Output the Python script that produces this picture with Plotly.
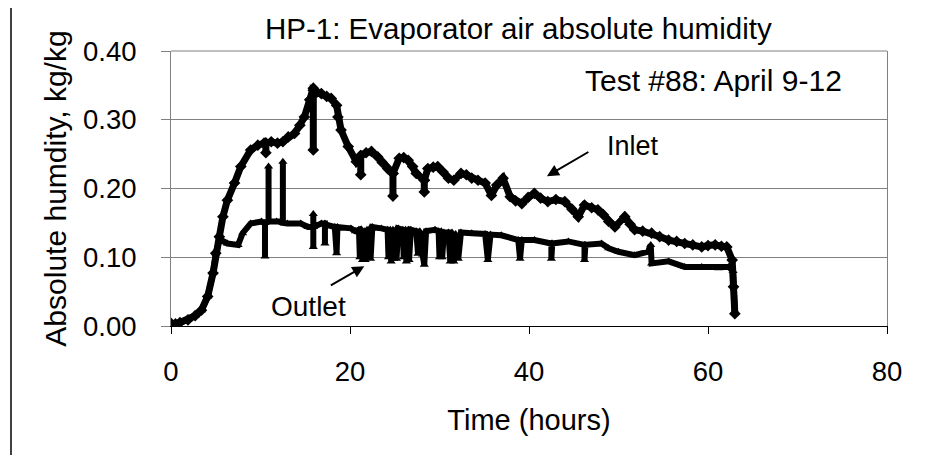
import plotly.graph_objects as go

# ---------------- data ----------------
inlet_t = [0.0, 0.5, 1.0, 1.9, 2.7, 3.4, 4.1, 4.7, 5.0, 5.4, 5.8, 6.3, 7.1, 7.8, 8.9, 9.7,
           10.4, 10.6, 10.6, 10.6, 11.2, 11.9, 12.5, 13.1, 13.8, 14.4, 14.9, 15.5, 15.9, 15.9, 15.9,
           16.3, 16.8, 17.4, 17.9, 18.5, 18.65, 19.0, 19.8, 20.7, 21.2, 21.2, 21.2, 21.8, 22.4,
           23.1, 23.6, 24.2, 24.8, 24.8, 24.8, 25.5, 26.0, 26.5, 27.0, 27.4, 28.3, 28.3, 28.3,
           28.7, 29.3, 29.8, 30.4, 31.0, 31.6, 32.4, 33.0, 33.6, 34.3, 35.1, 35.8, 36.4, 37.1,
           37.9, 38.5, 39.2, 39.9, 40.6, 41.3, 42.1, 43.0, 44.0, 44.8, 45.5, 46.2, 47.0, 47.7,
           48.3, 48.9, 49.6, 50.7, 51.3, 51.8, 52.7, 53.7, 54.6, 55.6, 56.5, 57.4, 58.3, 59.3,
           60.0, 60.8, 61.5, 62.1, 62.7, 62.85, 63.0]
inlet_y = [0.004, 0.003, 0.005, 0.009, 0.015, 0.023, 0.043, 0.077, 0.106, 0.130, 0.159, 0.183,
           0.208, 0.232, 0.256, 0.263, 0.266, 0.266, 0.252, 0.266, 0.268, 0.266, 0.268, 0.275,
           0.280, 0.292, 0.304, 0.329, 0.346, 0.256, 0.343, 0.340, 0.338, 0.334, 0.331, 0.321,
           0.304, 0.285, 0.261, 0.239, 0.248, 0.220, 0.248, 0.252, 0.254, 0.246, 0.238, 0.229,
           0.222, 0.189, 0.222, 0.244, 0.245, 0.241, 0.232, 0.222, 0.212, 0.195, 0.212, 0.229,
           0.231, 0.232, 0.224, 0.215, 0.212, 0.222, 0.220, 0.215, 0.212, 0.208, 0.190, 0.205,
           0.215, 0.188, 0.182, 0.178, 0.187, 0.193, 0.186, 0.181, 0.184, 0.181, 0.170, 0.159,
           0.176, 0.172, 0.169, 0.162, 0.152, 0.144, 0.159, 0.148, 0.140, 0.138, 0.135, 0.130,
           0.125, 0.123, 0.120, 0.118, 0.115, 0.117, 0.118, 0.116, 0.115, 0.096, 0.057, 0.018]

outlet_t = [0.0, 0.5, 1.0, 1.9, 2.7, 3.4, 4.1, 4.7, 5.0, 5.4, 5.6, 6.3, 7.5, 8.0, 8.9, 10.1,
            10.5, 10.5, 10.5, 10.9, 10.9, 10.9, 11.8, 12.5, 12.5, 12.5, 13.0, 14.5, 15.3, 15.9,
            15.9, 15.9, 15.9, 16.8, 17.2, 17.2, 17.2, 18.3, 18.5, 18.6, 20.1, 20.6,
            21.0, 21.1, 21.3, 21.4, 21.6, 21.7, 21.9, 22.0, 22.2, 22.3, 22.5, 23.5,
            24.2, 24.3, 24.5, 24.6, 24.8, 24.9, 25.1, 25.2, 25.4,
            25.9, 26.0, 26.2, 26.3, 26.5, 26.6, 26.8,
            27.4, 27.6, 27.8, 28.1, 28.3, 28.5, 29.5,
            29.9, 30.0, 30.2, 30.3, 30.5,
            31.0, 31.2, 31.4, 31.6, 31.8, 32.1, 32.4,
            33.6, 35.1, 35.4, 35.7,
            36.9, 38.8, 39.0, 39.2, 40.6, 42.5, 42.5, 42.6, 44.4, 46.2, 46.2, 46.3, 48.1, 48.9,
            50.0, 51.8, 53.3, 53.6, 53.7, 55.6, 57.4, 59.3, 61.2, 62.3, 62.8, 63.0]
outlet_y = [0.004, 0.003, 0.005, 0.009, 0.015, 0.023, 0.043, 0.077, 0.106, 0.125, 0.125, 0.120,
            0.118, 0.135, 0.149, 0.152, 0.150, 0.101, 0.150, 0.152, 0.232, 0.152, 0.152, 0.152,
            0.239, 0.150, 0.149, 0.149, 0.144, 0.144, 0.163, 0.115, 0.144, 0.149, 0.149, 0.120,
            0.148, 0.144, 0.106, 0.144, 0.142, 0.138,
            0.140, 0.100, 0.140, 0.096, 0.138, 0.096, 0.140, 0.100, 0.142, 0.098, 0.144, 0.142,
            0.140, 0.100, 0.140, 0.094, 0.140, 0.098, 0.140, 0.098, 0.142,
            0.140, 0.100, 0.140, 0.094, 0.140, 0.096, 0.140,
            0.138, 0.105, 0.138, 0.104, 0.089, 0.138, 0.140,
            0.138, 0.100, 0.138, 0.100, 0.136,
            0.136, 0.094, 0.136, 0.094, 0.134, 0.098, 0.136,
            0.135, 0.134, 0.096, 0.133,
            0.132, 0.125, 0.098, 0.125, 0.125, 0.120, 0.098, 0.120, 0.123, 0.118, 0.096, 0.118,
            0.120, 0.113, 0.108, 0.103, 0.108, 0.118, 0.091, 0.094, 0.086, 0.086, 0.084, 0.086,
            0.080, 0.020]

x_ticks = [0, 20, 40, 60, 80]
y_ticks = [0.0, 0.1, 0.2, 0.3, 0.4]
y_tick_text = ["0.00", "0.10", "0.20", "0.30", "0.40"]

FONT = "Liberation Sans, Arial, sans-serif"

fig = go.Figure()
fig.add_trace(go.Scatter(x=outlet_t, y=outlet_y, mode="lines+markers", name="Outlet",
                         line=dict(color="black", width=6),
                         marker=dict(symbol="triangle-up", size=8, color="black")))
fig.add_trace(go.Scatter(x=inlet_t, y=inlet_y, mode="lines+markers", name="Inlet",
                         line=dict(color="black", width=7),
                         marker=dict(symbol="diamond", size=9, color="black")))

fig.update_layout(
    width=919, height=455,
    margin=dict(l=163, r=40, t=43, b=137),
    paper_bgcolor="white", plot_bgcolor="white",
    showlegend=False,
    font=dict(family=FONT, color="black", size=27.5),
    title=dict(text="HP-1: Evaporator air absolute humidity",
               font=dict(family=FONT, size=29.5, color="black"),
               xref="paper", x=(265 - 171) / 716, xanchor="left",
               yref="container", y=1 - 21 / 455, yanchor="middle"),
    xaxis=dict(range=[0, 80], tickvals=x_ticks, showgrid=False, zeroline=False,
               showline=True, linecolor="black", linewidth=1,
               ticks="outside", ticklen=7, tickcolor="black",
               tickfont=dict(size=27.5), ticklabelstandoff=14,
               title=dict(text="Time (hours)", font=dict(size=29), standoff=23)),
    yaxis=dict(range=[0, 0.4], tickvals=y_ticks, ticktext=y_tick_text,
               showgrid=True, gridcolor="#808080", gridwidth=1, zeroline=False,
               showline=True, linecolor="#808080", linewidth=1, mirror=True,
               ticks="outside", ticklen=9, tickcolor="#808080",
               tickfont=dict(size=27.5), ticklabelstandoff=19,
               title=dict(text="Absolute humdity, kg/kg", font=dict(size=30), standoff=7)),
    annotations=[
        dict(text="Test #88: April 9-12", xref="paper", yref="paper",
             x=(583 - 171) / 716, y=(326 - 80) / 275, xanchor="left", yanchor="middle",
             showarrow=False, font=dict(size=30)),
        dict(text="Inlet", xref="paper", yref="paper",
             x=(605 - 171) / 716, y=(326 - 146) / 275, xanchor="left", yanchor="middle",
             showarrow=False, font=dict(size=27)),
        dict(text="Outlet", xref="paper", yref="paper",
             x=(269 - 171) / 716, y=(326 - 306) / 275, xanchor="left", yanchor="middle",
             showarrow=False, font=dict(size=28)),
        dict(text="", x=42.0, y=0.218, xref="x", yref="y", showarrow=True,
             ax=43, ay=-25, arrowhead=2, arrowsize=1.2, arrowwidth=2, arrowcolor="black"),
        dict(text="", x=21.6, y=0.087, xref="x", yref="y", showarrow=True,
             ax=-35, ay=20, arrowhead=2, arrowsize=1.2, arrowwidth=2, arrowcolor="black"),
    ],
    shapes=[
        dict(type="line", xref="paper", yref="paper", x0=0, x1=1, y0=1, y1=1,
             line=dict(color="#808080", width=1)),
        dict(type="line", xref="paper", yref="paper",
             x0=(11 - 171) / 716, x1=(11 - 171) / 716,
             y0=(326 - 8) / 275, y1=(326 - 455) / 275,
             line=dict(color="black", width=1.5)),
    ],
)

fig.write_html("out.html")
